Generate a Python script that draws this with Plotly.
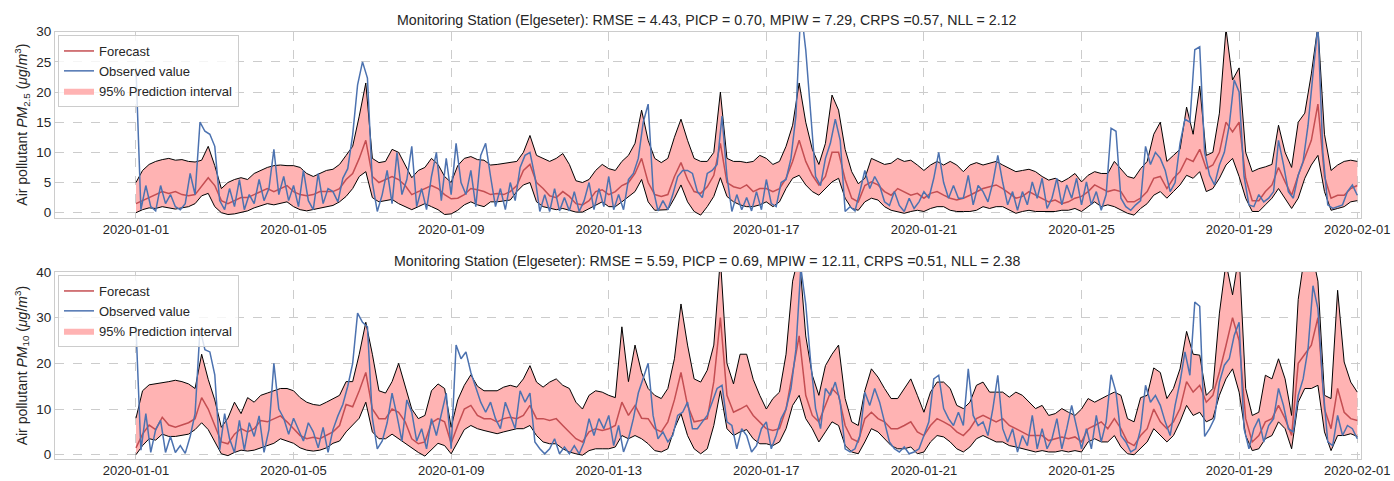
import pandas as pd
import plotly.graph_objects as go

# ---------------- PM2.5 (top panel) ----------------
# band / forecast sampled every 4 h from 2020-01-01 00:00 (6 values per day)
pm25_upper = [
    5.0, 7.0, 8.0, 8.5, 8.8, 9.0,
    8.7, 8.8, 8.5, 8.4, 8.7, 11.0,
    7.8, 4.0, 5.0, 5.5, 5.8, 5.5,
    6.5, 7.0, 7.5, 7.8, 7.9, 7.8,
    7.8, 7.5, 6.5, 6.0, 6.5, 7.0,
    7.2, 8.0, 9.5, 11.0, 16.0, 21.5,
    9.0, 8.3, 8.5, 10.5, 10.0, 8.0,
    5.8, 7.0, 7.5, 9.0, 8.0, 6.0,
    5.0, 7.8, 9.0, 9.3, 8.8, 8.7,
    7.9, 8.0, 8.2, 8.3, 8.5, 10.0,
    12.8, 9.5, 9.0, 8.5, 9.0, 9.8,
    8.0, 5.3, 5.0, 5.5, 7.0, 8.0,
    7.3, 7.0, 8.5, 9.5, 11.5, 17.0,
    12.0, 9.0, 8.3, 9.0, 12.5, 15.5,
    12.0, 9.0, 8.5, 8.5, 10.0, 20.0,
    9.0, 8.5, 8.5, 8.3, 8.5, 9.5,
    9.0, 8.0, 8.5, 11.0, 14.5, 21.5,
    15.0, 10.5, 8.0, 11.5, 19.5, 17.0,
    10.5, 6.8, 4.8, 5.7, 9.0, 8.5,
    8.0, 8.2, 9.0, 8.5, 8.7, 7.9,
    7.0, 7.9, 8.5, 7.9, 8.5, 7.9,
    6.8, 7.9, 8.3, 7.9, 8.2, 8.5,
    7.9, 7.3, 6.8, 7.0, 7.2, 6.8,
    6.0, 5.4, 5.7, 5.1, 5.7, 6.5,
    5.1, 6.2, 6.8, 6.5, 6.5, 8.5,
    7.3, 6.0, 5.7, 7.3, 8.5, 13.0,
    15.0, 8.5, 9.5, 10.5, 17.5, 13.0,
    21.0, 9.5, 10.0, 16.5, 30.5, 22.0,
    24.0, 10.0, 6.8, 7.3, 7.6, 8.0,
    14.5, 10.0, 7.5, 15.0, 16.5, 23.0,
    31.0, 13.0, 7.0, 7.9, 8.5, 8.7,
    8.5,
]
pm25_forecast = [
    1.5, 2.0, 2.5, 3.0, 3.5, 3.2,
    3.5, 3.0, 2.8, 3.0, 4.5, 5.8,
    4.5, 2.0, 1.5, 2.0, 2.5, 2.5,
    3.0, 3.5, 4.0, 3.5, 4.0, 4.5,
    3.5, 3.0, 2.8, 3.0, 3.5, 3.5,
    3.5, 4.0, 5.5, 6.5, 9.0, 12.0,
    6.0, 5.0, 5.5, 6.0, 5.5, 4.5,
    3.0, 3.5, 4.0, 4.5, 4.0, 3.0,
    2.3, 2.4, 3.0, 4.0, 3.8, 3.5,
    3.0, 3.2, 3.0, 3.5, 4.5, 7.0,
    8.0, 5.0, 4.0, 2.8, 2.5, 3.5,
    2.7, 1.5, 1.3, 2.0, 3.5, 3.8,
    3.0, 3.5, 4.5, 5.0, 6.5, 9.0,
    5.0, 3.0, 2.7, 3.0, 6.0, 8.3,
    5.5, 3.5, 3.2, 4.3, 6.2, 11.5,
    5.0, 4.3, 4.0, 4.6, 3.5, 4.0,
    4.0, 3.5, 4.0, 5.7, 8.5, 12.0,
    8.5, 6.2, 4.6, 6.0, 10.0, 10.0,
    5.5, 2.4, 1.8, 4.5, 5.1, 4.6,
    3.5, 2.9, 4.0, 3.5, 2.9, 3.2,
    2.4, 3.2, 3.5, 2.9, 2.4, 2.1,
    2.4, 2.9, 3.5, 4.0, 4.3, 4.6,
    4.0, 3.2, 2.4, 2.7, 3.5, 2.9,
    2.4, 1.8, 2.1, 1.5, 1.8, 2.4,
    2.7, 3.5, 4.6, 4.0, 3.5, 3.8,
    3.5, 1.8, 1.8, 2.4, 3.5, 5.7,
    6.0, 4.0, 5.7, 6.8, 9.0, 8.5,
    10.5, 7.3, 7.9, 10.0, 15.0, 13.4,
    15.0, 5.7, 2.0, 2.0, 3.5, 4.6,
    7.5, 5.1, 2.9, 6.2, 9.0, 12.0,
    18.0, 6.0, 2.4, 2.9, 2.9, 4.0,
    4.5,
]
pm25_lower = [
    0.0, 0.5, 0.8, 0.7, 1.0, 0.8,
    0.6, 0.8, 1.0, 1.5, 2.8, 3.2,
    1.0, 0.0, -0.3, -0.2, 0.0, 0.3,
    0.8, 1.2, 1.5, 1.3, 1.5, 1.8,
    1.0, 0.5, 0.3, 0.5, 0.8, 1.0,
    1.2, 1.8, 2.7, 4.0, 6.0, 6.8,
    2.5, 1.8, 2.0, 2.2, 1.5, 1.0,
    0.5, 1.0, 1.5, 1.0, 0.5, -0.3,
    -0.2, 0.4, 1.3, 1.8, 1.3, 1.0,
    1.8, 1.8, 1.9, 2.1, 3.5, 4.6,
    5.0, 1.8, 1.0, 0.7, 0.5, 0.7,
    0.4, 0.1, 0.1, 0.7, 1.3, 1.8,
    1.0, 1.0, 1.8, 2.7, 3.5, 5.5,
    1.8, 0.4, 0.4, 0.5, 2.4, 4.6,
    1.8, 0.2, -0.4, 1.0, 2.7, 5.8,
    2.7, 1.8, 1.3, 1.0, 1.0, 1.3,
    1.8, 1.0, 1.8, 4.0, 5.7, 6.2,
    4.6, 3.5, 2.9, 4.0, 5.1, 5.7,
    2.4, 0.7, 0.4, 1.8, 2.4, 2.1,
    1.0, 0.4, 0.2, -0.1, 0.2, 0.4,
    0.2, 0.7, 1.0, 1.0, 0.4, 0.2,
    0.2, 0.2, 0.4, 1.0, 0.7, 1.0,
    1.0, 0.4, -0.1, 0.2, 0.4, 0.2,
    0.2, 0.2, 0.2, 0.4, 0.4, 0.7,
    0.2, 1.0, 1.8, 1.0, 1.3, 1.0,
    0.4, -0.1, -0.4, 0.7, 1.5, 2.9,
    3.5, 2.4, 3.5, 4.6, 6.2, 5.7,
    6.8, 3.5, 4.0, 5.7, 7.9, 9.0,
    6.0, 2.4, 0.2, 0.2, 1.3, 2.4,
    4.0, 2.4, 0.7, 2.4, 5.7, 7.9,
    9.5, 3.5, 0.4, 0.7, 1.0, 1.8,
    2.0,
]
# observed sampled every 3 h (8 values per day)
pm25_observed = [
    24.0, 0.5, 4.5, 1.0, 0.3, 4.5, 1.5, 3.0,
    1.0, 0.5, 1.5, 6.5, 3.0, 15.0, 13.5, 13.0,
    11.0, 2.0, 0.5, 4.0, 1.0, 5.5, 0.5, 3.0,
    1.5, 5.5, 2.0, 4.0, 10.5, 3.0, 6.0, 2.0,
    4.5, 1.0, 7.0, 2.0, 0.5, 6.5, 1.5, 4.0,
    3.5, 1.8, 5.7, 7.3, 12.9, 21.2, 25.0, 22.3,
    5.0, 0.2, 3.0, 7.0, 1.5, 10.0, 3.0, 5.5,
    11.0, 1.0, 4.0, 0.5, 6.0, 10.0, 2.0, 9.0,
    3.0, 11.5, 5.0, 3.0, 7.0, 1.0, 9.5, 11.5,
    6.0, 1.0, 4.0, 0.5, 5.0, 2.0, 7.5, 9.5,
    10.0, 6.0, 0.2, 3.0, 0.2, 4.0, 0.3, 2.5,
    0.3, 3.5, 0.2, 2.0, 5.0, 0.5, 4.0, 1.0,
    6.0, 0.5, 3.0, 0.5, 5.5, 6.5, 9.0, 15.0,
    18.0, 4.0, 0.3, 2.0, 0.5, 3.0, 6.0, 7.0,
    7.0, 6.5, 3.5, 2.5, 6.5, 7.0, 8.0, 16.0,
    6.0, 0.2, 3.0, 0.5, 2.5, 0.3, 3.5, 0.5,
    5.5, 1.5, 1.0, 5.0, 5.5, 9.0, 16.0, 34.0,
    27.0, 16.0, 6.0, 4.5, 9.0, 11.5, 15.5, 12.0,
    0.2, 1.0, 0.3, 3.5, 7.0, 4.0, 6.0, 4.5,
    1.8, 1.2, 3.5, 1.2, 0.2, 2.4, 0.7, 1.8,
    3.5, 2.4, 5.7, 10.0, 5.0, 2.4, 4.5, 2.4,
    2.4, 6.2, 1.3, 4.5, 3.5, 1.8, 5.0, 9.5,
    5.0, 1.3, 3.5, 0.4, 3.5, 1.3, 5.1, 2.4,
    5.7, 0.7, 2.4, 5.7, 1.3, 4.6, 2.4, 5.7,
    1.3, 5.1, 1.3, 3.5, 0.4, 3.0, 14.0, 13.5,
    2.4, 1.0, 0.4, 1.3, 2.0, 11.0, 8.0, 10.0,
    9.0, 7.0, 3.5, 5.0, 11.5, 15.5, 15.0, 27.0,
    27.5, 10.0, 6.2, 4.6, 7.9, 10.0, 14.5, 22.0,
    20.0, 6.0, 1.3, 1.0, 3.0, 1.8, 2.4, 3.5,
    12.0, 8.0, 3.5, 2.4, 6.2, 8.5, 14.5, 23.0,
    31.0, 10.0, 1.3, 0.7, 1.0, 1.3, 3.5, 4.6,
    2.9,
]

# ---------------- PM10 (bottom panel) ----------------
pm10_upper = [
    8.0, 14.0, 15.3, 15.5, 15.8, 16.0,
    16.3, 16.0, 15.5, 14.5, 22.0, 16.5,
    12.0, 6.0, 8.0, 11.5, 9.0, 12.5,
    11.5, 13.0, 13.5, 14.0, 14.5, 14.5,
    14.0, 12.5, 11.5, 11.0, 10.8, 11.5,
    12.3, 13.0, 16.0, 16.0, 22.0, 29.0,
    22.0, 14.0, 13.5, 16.0, 20.0, 15.0,
    10.0, 7.9, 8.6, 14.0, 15.5, 14.5,
    6.0, 12.0, 15.2, 17.5, 15.0, 14.0,
    14.0, 14.0, 14.8, 15.2, 14.8, 16.6,
    19.5, 15.9, 14.8, 15.9, 16.6, 15.2,
    14.5, 11.5, 10.0, 13.0, 14.0, 13.7,
    13.0, 12.5, 28.0, 16.0, 24.0, 18.0,
    14.5, 13.0, 12.3, 14.5, 21.0, 33.0,
    24.0, 16.6, 15.9, 18.5, 24.0, 43.0,
    20.0, 15.5, 22.0, 22.0, 16.5, 13.0,
    10.0, 12.3, 13.7, 22.0, 38.0, 44.0,
    26.0, 17.4, 13.0, 19.5, 22.0, 24.0,
    12.3, 7.2, 6.4, 14.0, 18.8, 17.0,
    14.5, 12.3, 12.3, 14.5, 16.6, 13.0,
    9.3, 13.7, 15.9, 15.9, 14.5, 10.8,
    10.1, 11.5, 15.2, 15.9, 13.7, 13.7,
    13.7, 12.6, 13.7, 13.0, 11.5, 10.1,
    10.8, 8.6, 9.0, 10.1, 9.3, 8.6,
    10.0, 12.3, 11.5, 12.3, 13.0, 13.7,
    13.0, 7.9, 7.2, 12.5, 13.0, 19.0,
    18.0, 12.3, 14.5, 18.8, 27.0, 22.0,
    21.8, 13.0, 14.5, 31.0, 42.0, 35.0,
    44.0, 14.5, 8.6, 9.3, 17.4, 16.6,
    21.0, 16.6, 8.6, 34.0, 44.0, 45.0,
    38.0, 13.0, 12.3, 36.0, 20.3, 15.9,
    13.7,
]
pm10_forecast = [
    1.5, 4.5, 6.5, 5.5, 8.2, 6.5,
    6.0, 6.5, 7.0, 7.9, 12.5, 10.0,
    6.5, 2.8, 2.4, 4.5, 5.7, 5.0,
    5.7, 7.5, 7.2, 7.9, 8.5, 7.2,
    5.7, 4.2, 3.5, 3.8, 3.5, 4.2,
    5.0, 6.4, 11.0, 10.5, 14.0, 18.0,
    10.0, 7.9, 7.9, 10.0, 9.3, 7.2,
    3.5, 2.4, 2.8, 7.0, 7.9, 7.2,
    2.5, 6.4, 10.0, 10.8, 8.6, 7.9,
    7.9, 7.2, 7.9, 8.2, 7.9, 8.6,
    10.8, 7.9, 7.9, 7.5, 7.9, 6.4,
    5.0, 3.5, 2.8, 5.0, 5.7, 5.3,
    5.7, 6.4, 11.5, 8.6, 10.8, 8.0,
    7.9, 5.7, 5.0, 7.2, 12.0, 18.0,
    10.8, 7.2, 7.5, 7.9, 16.0, 30.0,
    13.0, 9.3, 10.0, 10.8, 8.6, 7.2,
    5.7, 5.3, 5.7, 10.0, 18.0, 26.0,
    13.0, 8.6, 7.2, 10.8, 14.5, 13.0,
    6.4, 3.5, 2.8, 7.9, 9.3, 7.9,
    7.2, 5.7, 5.7, 6.4, 7.2, 5.0,
    4.2, 6.4, 7.9, 7.2, 6.4, 5.0,
    4.2, 5.7, 7.9, 8.6, 7.9, 7.2,
    7.9, 6.4, 5.7, 5.0, 4.2, 4.2,
    4.2, 3.1, 3.5, 3.9, 3.5, 3.9,
    2.8, 5.7, 6.4, 7.2, 5.7, 7.9,
    5.7, 2.8, 2.0, 4.2, 5.7, 10.0,
    7.2, 5.7, 7.2, 10.1, 16.0, 13.7,
    15.2, 11.5, 13.0, 18.1, 23.9, 30.0,
    25.0, 7.9, 2.8, 4.2, 7.2, 7.9,
    10.8, 7.9, 4.2, 20.0, 22.0, 24.0,
    30.0, 10.0, 5.7, 14.5, 9.3, 7.9,
    7.5,
]
pm10_lower = [
    0.0, 2.0, 3.5, 3.2, 4.5, 4.0,
    4.0, 4.2, 4.5, 5.5, 7.0, 5.5,
    3.0, 0.2, -0.2, 0.5, 1.0, 0.8,
    1.0, 1.5, 2.0, 2.5, 3.5, 3.0,
    2.5, 1.5, 1.0, 0.8, 1.0, 1.5,
    2.5, 3.0, 5.0, 6.5, 8.0, 11.5,
    5.0, 3.5, 3.5, 4.5, 3.5, 2.5,
    1.5, 0.5, -0.3, 1.0, 2.5, 2.0,
    0.2, 2.8, 5.5, 6.4, 5.7, 5.3,
    5.0, 4.6, 5.0, 5.3, 5.7, 5.7,
    6.4, 4.2, 2.8, 2.4, 2.4, 1.3,
    0.6, 0.2, -0.1, 0.9, 1.3, 1.3,
    1.3, 1.7, 4.2, 3.5, 4.2, 3.5,
    2.4, 0.9, 0.6, 1.3, 5.7, 9.0,
    4.2, 1.3, 0.2, 1.3, 6.4, 14.0,
    5.7, 4.2, 5.0, 5.5, 3.5, 2.4,
    2.4, 2.0, 2.8, 5.7, 10.8, 13.0,
    7.9, 5.7, 2.8, 5.0, 7.2, 6.4,
    2.0, 0.6, 0.2, 2.8, 5.7, 5.0,
    3.5, 2.0, 1.3, 1.3, 1.7, 0.2,
    0.6, 2.8, 4.2, 3.9, 2.8, 1.3,
    0.6, 1.7, 3.5, 4.2, 3.5, 2.8,
    2.8, 2.0, 1.7, 1.3, 0.9, 0.6,
    0.9, 0.6, 0.6, 0.9, 0.6, 0.9,
    0.6, 2.8, 3.5, 2.8, 2.8, 4.2,
    1.7, 0.2, 0.0, 1.3, 2.8, 5.7,
    4.2, 2.8, 4.2, 7.2, 10.8, 8.6,
    9.3, 7.2, 7.9, 13.0, 16.6, 18.8,
    13.7, 4.2, 0.9, 1.3, 3.5, 4.2,
    7.2, 5.7, 1.3, 11.5, 14.5, 14.5,
    15.2, 5.0, 0.9, 4.2, 4.2, 4.6,
    4.0,
]
pm10_observed = [
    28.0, 1.0, 9.0, 0.5, 5.5, 7.5, 0.5, 4.0,
    0.5, 2.0, 0.3, 4.0, 9.0, 27.5, 23.0, 22.5,
    17.5, 1.0, 9.0, 3.5, 0.5, 7.5, 1.0, 7.0,
    4.0, 8.5, 0.5, 5.5, 20.0, 10.0, 8.0, 4.5,
    8.0, 5.5, 3.0, 7.0, 5.0, 1.5, 6.0, 0.5,
    5.5, 8.5, 11.0, 15.0, 20.0, 31.0, 29.0, 28.0,
    8.0, 1.3, 3.0, 7.0, 13.5, 8.5, 3.0, 12.0,
    9.3, 3.0, 5.7, 1.3, 7.9, 4.2, 8.6, 13.5,
    1.3, 24.0, 21.0, 22.5, 18.0, 14.5, 11.5, 9.3,
    11.5, 7.9, 5.7, 11.5, 8.6, 5.7, 14.0, 11.5,
    13.5, 2.8, 1.3, 0.2, 1.3, 3.5, 0.2, 1.7,
    0.2, 2.0, 0.2, 2.8, 7.9, 4.2, 7.9, 5.7,
    8.6, 2.0, 6.4, 0.6, 3.5, 7.9, 13.5, 16.6,
    20.0, 8.6, 3.5, 5.0, 2.8, 4.2, 8.6, 9.3,
    11.5, 5.7, 5.7, 7.2, 8.6, 11.5, 14.5, 15.2,
    7.2, 6.4, 1.3, 5.7, 4.2, 0.6, 2.0, 5.7,
    7.2, 1.3, 4.2, 7.9, 10.0, 14.5, 23.0, 41.0,
    33.0, 20.3, 10.1, 5.7, 14.5, 13.0, 15.9, 11.5,
    1.3, 0.6, 1.3, 4.2, 13.7, 10.8, 14.5, 11.5,
    7.2, 2.8, 1.3, 0.6, 1.7, 0.2, 0.6, 1.3,
    4.2, 7.2, 16.6, 17.4, 10.1, 7.9, 6.4, 9.3,
    6.4, 18.8, 8.6, 6.4, 7.2, 4.2, 10.1, 17.4,
    5.7, 2.8, 5.7, 0.6, 4.2, 2.0, 8.6, 1.3,
    5.7, 1.3, 3.5, 7.9, 1.3, 5.7, 10.8, 5.7,
    1.3, 5.7, 1.3, 8.6, 2.8, 7.2, 17.5, 13.7,
    4.2, 2.8, 0.6, 1.3, 5.7, 15.2, 11.5, 13.0,
    10.8, 7.2, 4.2, 10.8, 15.9, 22.5, 17.4, 33.4,
    32.5, 4.0, 5.7, 7.9, 15.9, 19.6, 21.0, 26.1,
    29.0, 5.7, 1.3, 5.7, 7.9, 2.8, 6.4, 7.9,
    14.5, 10.8, 5.7, 5.0, 13.0, 16.6, 23.2, 37.0,
    32.0, 15.2, 2.8, 2.0, 8.6, 4.2, 6.4, 5.7,
    3.5,
]

titles = [
    "Monitoring Station (Elgeseter): RMSE = 4.43, PICP = 0.70, MPIW = 7.29, CRPS =0.57, NLL = 2.12",
    "Monitoring Station (Elgeseter): RMSE = 5.59, PICP = 0.69, MPIW = 12.11, CRPS =0.51, NLL = 2.38",
]
ylabels = [
    "Air pollutant <i>PM</i><sub>2.5</sub> (<i>μg</i>/<i>m</i><sup>3</sup>)",
    "Air pollutant <i>PM</i><sub>10</sub> (<i>μg</i>/<i>m</i><sup>3</sup>)",
]
tick_dates = ["2020-01-01", "2020-01-05", "2020-01-09", "2020-01-13", "2020-01-17",
              "2020-01-21", "2020-01-25", "2020-01-29", "2020-02-01"]

FONT = "Liberation Sans, Arial, sans-serif"
TXT = "#262626"
GRID = "#cccccc"
RED = "#C44E52"
BLUE = "#4C72B0"
FILL = "#FFB3B3"

# page body margin is removed by the post script, so figure pixels = page pixels
W, H = 1394, 481
ML = 55
MR = W - 1360.7
PW = W - ML - MR


def px_x(x):
    return (x - ML) / PW


def px_y(y):
    return 1 - y / H


panels = [
    dict(up=pm25_upper, fc=pm25_forecast, lo=pm25_lower, ob=pm25_observed,
         top=31.7, bot=217.7, yr=[-0.83, 30], yt=[0, 5, 10, 15, 20, 25, 30],
         title_y=20, leg_top=35),
    dict(up=pm10_upper, fc=pm10_forecast, lo=pm10_lower, ob=pm10_observed,
         top=272.0, bot=458.7, yr=[-0.87, 40], yt=[0, 10, 20, 30, 40],
         title_y=261, leg_top=275),
]

fig = go.Figure()
annotations = []
layout_axes = {}

for i, p in enumerate(panels):
    k = "" if i == 0 else str(i + 1)
    xa, ya = "x" + k, "y" + k
    leg = "legend" + k
    t_band = pd.date_range("2020-01-01", periods=len(p["up"]), freq="4h")
    t_obs = pd.date_range("2020-01-01", periods=len(p["ob"]), freq="3h")

    fig.add_trace(go.Scatter(x=t_band, y=p["lo"], mode="lines", line=dict(width=0, color=FILL),
                             showlegend=False, hoverinfo="skip", xaxis=xa, yaxis=ya))
    fig.add_trace(go.Scatter(x=t_band, y=p["up"], mode="lines", line=dict(width=0, color=FILL),
                             fill="tonexty", fillcolor=FILL, name="95% Prediction interval",
                             legend=leg, legendrank=3, xaxis=xa, yaxis=ya))
    fig.add_trace(go.Scatter(x=t_band, y=p["lo"], mode="lines", line=dict(width=1, color="black"),
                             showlegend=False, xaxis=xa, yaxis=ya))
    fig.add_trace(go.Scatter(x=t_band, y=p["up"], mode="lines", line=dict(width=1, color="black"),
                             showlegend=False, xaxis=xa, yaxis=ya))
    fig.add_trace(go.Scatter(x=t_band, y=p["fc"], mode="lines", line=dict(width=1.5, color=RED),
                             name="Forecast", legend=leg, legendrank=1, xaxis=xa, yaxis=ya))
    fig.add_trace(go.Scatter(x=t_obs, y=p["ob"], mode="lines", line=dict(width=1.5, color=BLUE),
                             name="Observed value", legend=leg, legendrank=2, xaxis=xa, yaxis=ya))

    layout_axes["xaxis" + k] = dict(
        domain=[0, 1], anchor=ya, type="date",
        range=["2019-12-29 22:40", "2020-02-01 02:15"],
        tickvals=tick_dates, tickformat="%Y-%m-%d",
        showgrid=True, gridcolor=GRID, griddash="dash", gridwidth=1,
        showline=True, linecolor=GRID, linewidth=1, mirror=True,
        ticks="", zeroline=False, automargin=False, ticklabeloverflow="allow",
        tickfont=dict(family=FONT, size=13, color=TXT),
    )
    layout_axes["yaxis" + k] = dict(
        domain=[px_y(p["bot"]), px_y(p["top"])], anchor=xa, range=p["yr"], tickvals=p["yt"],
        showgrid=True, gridcolor=GRID, griddash="dash", gridwidth=1,
        showline=True, linecolor=GRID, linewidth=1, mirror=True,
        ticks="", zeroline=False, automargin=False, ticklabeloverflow="allow",
        tickfont=dict(family=FONT, size=13.5, color=TXT),
    )
    layout_axes[leg] = dict(
        x=px_x(58), y=px_y(p["leg_top"]),
        xanchor="left", yanchor="top", traceorder="normal",
        bgcolor="rgba(255,255,255,0.8)", bordercolor=GRID, borderwidth=1,
        font=dict(family=FONT, size=13, color=TXT), tracegroupgap=0,
    )
    annotations.append(dict(
        text=titles[i], xref="paper", yref="paper", x=px_x(707), y=px_y(p["title_y"]),
        xanchor="center", yanchor="middle", showarrow=False,
        font=dict(family=FONT, size=14.2, color=TXT),
    ))
    annotations.append(dict(
        text=ylabels[i], xref="paper", yref="paper",
        x=px_x(22), y=px_y((p["top"] + p["bot"]) / 2),
        xanchor="center", yanchor="middle", textangle=-90, showarrow=False,
        font=dict(family=FONT, size=14, color=TXT),
    ))

fig.update_layout(
    template="none",
    width=W, height=H,
    margin=dict(l=ML, r=MR, t=0, b=0, autoexpand=False),
    paper_bgcolor="white", plot_bgcolor="white",
    font=dict(family=FONT, size=13, color=TXT),
    annotations=annotations,
    showlegend=True,
    **layout_axes,
)

fig.write_html(
    "out.html",
    config={"displayModeBar": False},
    post_script="document.body.style.margin='0';document.body.style.overflow='hidden';",
)
